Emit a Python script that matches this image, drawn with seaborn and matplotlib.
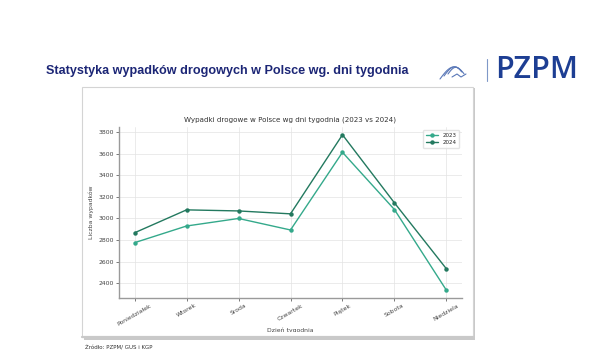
import numpy as np
import pandas as pd
import matplotlib
matplotlib.use("Agg")
import matplotlib.pyplot as plt
import seaborn as sns
from matplotlib.patches import Rectangle
from matplotlib.lines import Line2D

# ---- data ----
dni = ["Poniedziałek", "Wtorek", "Środa", "Czwartek", "Piątek", "Sobota", "Niedziela"]
wypadki_2023 = [2775, 2930, 3000, 2893, 3615, 3083, 2333]
wypadki_2024 = [2867, 3080, 3070, 3043, 3778, 3145, 2532]
lata = ["2023", "2024"]
kolory = {"2023": "#34a98b", "2024": "#23795f"}
y_ticks = [2400, 2600, 2800, 3000, 3200, 3400, 3600, 3800]

df = pd.DataFrame({
    "Dzień": dni * 2,
    "Wypadki": wypadki_2023 + wypadki_2024,
    "Rok": [lata[0]] * len(dni) + [lata[1]] * len(dni),
})

sns.set_style("white")
plt.rcParams["font.family"] = ["DejaVu Sans"]

W, H = 600, 363
fig = plt.figure(figsize=(6.0, 3.63), dpi=100)
fig.patch.set_facecolor("white")


def fx(px):
    return px / W


def fy(py):
    return 1 - py / H


# ---- slide header ----
fig.text(fx(46), fy(71), "Statystyka wypadków drogowych w Polsce wg. dni tygodnia",
         fontsize=9.1, fontweight="bold", color="#1c2676", va="center", ha="left",
         family=["Liberation Sans", "DejaVu Sans"])
fig.text(fx(495), fy(70), "PZPM", fontsize=22, color="#1d3e93", va="center", ha="left",
         fontweight="semibold", family=["Open Sans", "DejaVu Sans"])
fig.add_artist(Line2D([fx(487), fx(487)], [fy(59), fy(81)], color="#7f98c8", lw=0.8))

# small stylised car logo
t = np.linspace(0, 1, 30)
for dx, dy, s in [(0, 0, 1.0), (4, 3, 0.75), (8, 5, 0.55)]:
    xs = 440 + dx + 24 * s * t
    ys = 79 - dy - 14 * s * np.sin(np.pi * t * 0.8) + 3 * s * t
    fig.add_artist(Line2D(fx(xs), fy(ys), color="#5a78b8", lw=0.8))
fig.add_artist(Line2D(fx(np.array([452, 457, 461, 466])), fy(np.array([77, 74, 77, 74])),
                      color="#5a78b8", lw=0.8))

# ---- chart frame (embedded image) ----
fig.add_artist(Rectangle((fx(84), fy(340)), fx(473 - 82), (340 - 88) / H,
                         facecolor="#c9c9c9", edgecolor="none", zorder=0.5))
fig.add_artist(Rectangle((fx(82), fy(337)), fx(473 - 82), (337 - 87) / H,
                         facecolor="white", edgecolor="#d4d4d4", lw=0.8, zorder=0.6))

# ---- chart ----
ax = fig.add_axes([fx(119), fy(298), fx(462 - 119), (298 - 127) / H], zorder=1)
ax.set_facecolor("none")
sns.lineplot(data=df, x="Dzień", y="Wypadki", hue="Rok", palette=kolory,
             marker="o", markersize=3.2, markeredgewidth=0, linewidth=1.0,
             sort=False, ax=ax)

ax.set_yticks(y_ticks)
ax.grid(True, color="#e3e3e3", lw=0.5)
ax.set_axisbelow(True)
for s in ["top", "right"]:
    ax.spines[s].set_visible(False)
for s in ["left", "bottom"]:
    ax.spines[s].set_color("#9a9a9a")
    ax.spines[s].set_linewidth(1.0)
ax.tick_params(axis="both", labelsize=4.4, colors="#444444", length=2, width=0.5,
               pad=1.5, left=True, bottom=True)
plt.setp(ax.get_xticklabels(), rotation=30, ha="center")
ax.set_title("Wypadki drogowe w Polsce wg dni tygodnia (2023 vs 2024)",
             fontsize=5.1, color="#333333", pad=4)
ax.set_ylabel("Liczba wypadków", fontsize=4.4, color="#444444", labelpad=3)
ax.set_xlabel("Dzień tygodnia", fontsize=4.4, color="#444444", labelpad=1)

handles, labels = ax.get_legend_handles_labels()
ax.legend(handles, labels, loc="upper right", fontsize=4, frameon=True,
          edgecolor="#dddddd", fancybox=True, handlelength=2.2, borderpad=0.5)

# cover the lower part of the x label, as the frame clips it in the reference
fig.add_artist(Rectangle((fx(83), fy(337)), fx(473 - 84), 5 / H,
                         facecolor="white", edgecolor="none", zorder=5))
fig.add_artist(Line2D([fx(82), fx(473)], [fy(337), fy(337)], color="#c9c9c9", lw=1.6, zorder=6))

# ---- source ----
fig.text(fx(85), fy(347), "Źródło: PZPM/ GUS i KGP", fontsize=4, color="#333333",
         va="center", ha="left")

fig.savefig("out.png", dpi=100)
